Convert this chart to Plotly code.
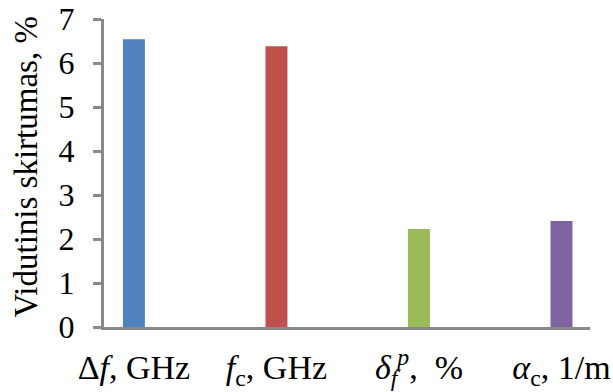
import plotly.graph_objects as go

categories = ["Δ<i>f</i>, GHz", "<i>f</i><sub>c</sub>, GHz",
              "<i>δ</i><sub><i>f</i></sub><sup><i>p</i></sup>,  %", "<i>α</i><sub>c</sub>, 1/m"]
values = [6.54, 6.38, 2.23, 2.41]
colors = ["#4F81BD", "#C0504D", "#9BBB59", "#8064A2"]
y_ticks = [0, 1, 2, 3, 4, 5, 6, 7]
y_title = "Vidutinis skirtumas, %"

font = "Liberation Serif"

fig = go.Figure(go.Bar(x=categories, y=values, marker_color=colors, width=0.154,
                       marker_line_width=0))

fig.update_layout(
    width=613, height=392,
    margin=dict(l=104, r=23, t=19, b=65),
    plot_bgcolor="white", paper_bgcolor="white",
    showlegend=False,
    font=dict(family=font, color="black"),
)
fig.update_xaxes(
    type="category", range=[-0.21, 3.2],
    showline=True, linecolor="#898989", linewidth=3,
    ticks="", showgrid=False,
    tickfont=dict(size=34, family=font),
    ticklabelstandoff=8,
    automargin=False,
)
fig.update_yaxes(
    range=[0, 7], tickvals=y_ticks,
    showline=True, linecolor="#898989", linewidth=3,
    ticks="outside", ticklen=8, tickcolor="#898989", tickwidth=3,
    showgrid=False, zeroline=False,
    tickfont=dict(size=32, family=font),
    ticklabelstandoff=12,
    automargin=False,
)
fig.add_annotation(
    text=y_title, textangle=-90, showarrow=False,
    xref="paper", yref="paper", x=-0.1605, y=0.521,
    xanchor="center", yanchor="middle",
    font=dict(size=33, family=font, color="black"),
)

fig.write_html("out.html", config={"displayModeBar": False},
               post_script="document.body.style.margin='0';document.body.style.overflow='hidden';")
